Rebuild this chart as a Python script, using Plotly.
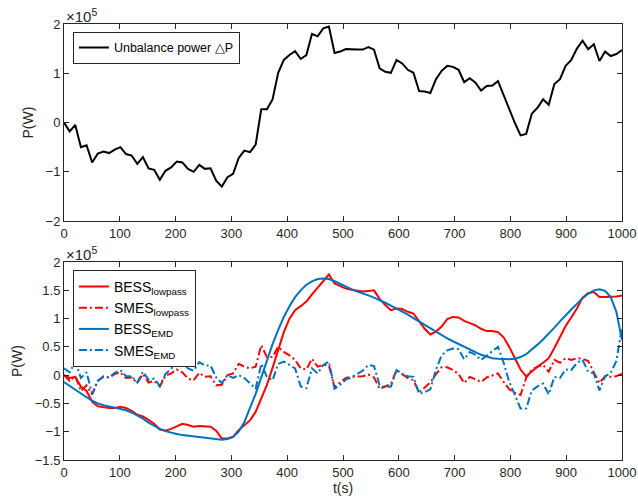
import numpy as np
import plotly.graph_objects as go

# ---------------- data (units of 1e5 W) ----------------
P_unbalance = [0, -0.18, -0.05, -0.5, -0.46, -0.81, -0.63, -0.59, -0.62, -0.55,
               -0.5, -0.64, -0.67, -0.84, -0.7, -0.93, -0.96, -1.16, -0.98, -0.91,
               -0.79, -0.81, -0.94, -1.0, -0.86, -0.94, -0.93, -1.18, -1.3, -1.11,
               -1.04, -0.72, -0.57, -0.6, -0.45, 0.27, 0.27, 0.47, 1.01, 1.27,
               1.37, 1.45, 1.29, 1.37, 1.8, 1.75, 1.91, 1.95, 1.41, 1.44,
               1.49, 1.48, 1.48, 1.48, 1.53, 1.48, 1.1, 1.03, 1.01, 1.27,
               1.2, 1.07, 1.01, 0.64, 0.63, 0.6, 0.88, 1.05, 1.15, 1.13,
               1.07, 0.82, 0.9, 0.81, 0.65, 0.74, 0.75, 0.84, 0.55, 0.27,
               -0.01, -0.26, -0.23, 0.18, 0.3, 0.47, 0.36, 0.78, 0.88, 1.15,
               1.27, 1.5, 1.66, 1.49, 1.59, 1.25, 1.44, 1.35, 1.39, 1.47]

BESS_lowpass = [0.0, -0.05, -0.03, -0.2, -0.28, -0.47, -0.55, -0.57, -0.58, -0.58,
                -0.56, -0.58, -0.63, -0.7, -0.73, -0.79, -0.86, -0.96, -0.98, -0.95,
                -0.91, -0.86, -0.88, -0.91, -0.9, -0.91, -0.91, -0.98, -1.12, -1.12,
                -1.09, -0.97, -0.88, -0.8, -0.65, -0.4, -0.17, 0.13, 0.45, 0.76,
                1.0, 1.15, 1.22, 1.3, 1.43, 1.55, 1.65, 1.78, 1.62, 1.57,
                1.53, 1.51, 1.49, 1.48, 1.49, 1.5, 1.35, 1.24, 1.15, 1.18,
                1.17, 1.12, 1.09, 0.96, 0.82, 0.72, 0.77, 0.86, 0.99, 1.03,
                1.02, 0.96, 0.92, 0.88, 0.82, 0.78, 0.78, 0.76, 0.67, 0.5,
                0.3, 0.1, -0.02, 0.07, 0.15, 0.22, 0.3, 0.48, 0.68, 0.87,
                1.02, 1.18, 1.37, 1.45, 1.47, 1.38, 1.38, 1.38, 1.39, 1.41]

SMES_lowpass = [0.0, -0.1, -0.02, -0.28, -0.18, -0.34, -0.1, -0.02, -0.04, 0.02,
                0.05, -0.05, -0.04, -0.14, 0.02, -0.13, -0.1, -0.2, -0.01, 0.03,
                0.1, 0.05, -0.06, -0.09, 0.04, -0.03, -0.02, -0.18, -0.17, 0.0,
                0.03, 0.2, 0.15, 0.12, 0.15, 0.53, 0.32, 0.32, 0.5, 0.41,
                0.35, 0.27, 0.12, 0.1, 0.29, 0.15, 0.18, 0.17, -0.21, -0.13,
                -0.05, -0.03, -0.02, -0.02, 0.01, -0.04, -0.24, -0.2, -0.16, 0.09,
                0.02, -0.05, -0.09, -0.3, -0.22, -0.13, 0.02, 0.14, 0.14, 0.09,
                0.02, -0.14, -0.03, -0.07, -0.12, -0.04, -0.01, 0.03, -0.12, -0.25,
                -0.31, -0.35, -0.05, 0.1, 0.15, 0.18, 0.06, 0.27, 0.22, 0.3,
                0.27, 0.3, 0.29, 0.25, 0.05, -0.14, -0.02, -0.03, -0.02, 0.03]

BESS_EMD = [-0.12, -0.19, -0.26, -0.33, -0.39, -0.45, -0.5, -0.53, -0.55, -0.57,
            -0.59, -0.62, -0.66, -0.71, -0.77, -0.84, -0.9, -0.95, -0.99, -1.02,
            -1.04, -1.06, -1.07, -1.08, -1.09, -1.1, -1.11, -1.13, -1.14, -1.13,
            -1.09, -1.0, -0.83, -0.58, -0.33, -0.04, 0.27, 0.55, 0.8, 1.03,
            1.22, 1.38, 1.5, 1.6, 1.66, 1.7, 1.71, 1.7, 1.66, 1.61,
            1.56, 1.52, 1.48, 1.45, 1.41, 1.37, 1.33, 1.28, 1.23, 1.18,
            1.13, 1.07, 1.01, 0.95, 0.88, 0.82, 0.76, 0.7, 0.65, 0.6,
            0.55, 0.5, 0.45, 0.41, 0.36, 0.33, 0.3, 0.29, 0.28, 0.28,
            0.29, 0.32, 0.37, 0.45, 0.54, 0.63, 0.73, 0.84, 0.95, 1.06,
            1.16, 1.26, 1.36, 1.44, 1.5, 1.52, 1.49, 1.38, 1.12, 0.62]

SMES_EMD = [0.12, 0.05, 0.24, -0.05, 0.05, -0.33, -0.1, -0.03, -0.04, 0.04,
            0.09, -0.02, -0.02, -0.13, 0.06, -0.08, -0.06, -0.19, 0.02, 0.11,
            0.25, 0.22, 0.12, 0.08, 0.23, 0.17, 0.17, -0.04, -0.14, 0.0,
            -0.05, 0.0, -0.05, -0.15, -0.24, 0.2, -0.03, -0.09, 0.2, 0.24,
            0.18, 0.12, -0.2, -0.23, 0.12, 0.03, 0.18, 0.24, -0.24, -0.17,
            -0.08, -0.04, 0.02, 0.08, 0.18, 0.16, -0.18, -0.21, -0.2, 0.09,
            0.02, -0.02, -0.03, -0.33, -0.3, -0.25, 0.1, 0.35, 0.44, 0.47,
            0.46, 0.28, 0.41, 0.36, 0.27, 0.35, 0.42, 0.5, 0.22, -0.12,
            -0.35, -0.59, -0.59, -0.27, -0.2, -0.15, -0.34, -0.03, -0.05, 0.1,
            0.09, 0.22, 0.27, 0.06, 0.03, -0.27, -0.02, 0.04, 0.25, 0.85]

t = np.linspace(0, 1000, len(P_unbalance))

x_ticks = list(range(0, 1001, 100))
y1_ticks = [-2, -1, 0, 1, 2]
y2_ticks = [-1.5, -1, -0.5, 0, 0.5, 1, 1.5, 2]

RED = "#FF0000"
BLUE = "#0072BD"
DASHDOT = "8px,3px,2px,3px"
FONT = "Liberation Sans, Arial, sans-serif"
TXT = "#262626"

fig = go.Figure()
fig.add_trace(go.Scatter(x=t, y=P_unbalance, mode="lines", name="Unbalance power \u25B3P",
                         line=dict(color="black", width=2), xaxis="x", yaxis="y",
                         legend="legend", showlegend=True))

fig.add_trace(go.Scatter(x=t, y=BESS_lowpass, mode="lines", name="BESS<sub>lowpass</sub>",
                         line=dict(color=RED, width=2), xaxis="x2", yaxis="y2",
                         legend="legend2", showlegend=True))
fig.add_trace(go.Scatter(x=t, y=SMES_lowpass, mode="lines", name="SMES<sub>lowpass</sub>",
                         line=dict(color=RED, width=2, dash=DASHDOT), xaxis="x2", yaxis="y2",
                         legend="legend2", showlegend=True))
fig.add_trace(go.Scatter(x=t, y=BESS_EMD, mode="lines", name="BESS<sub>EMD</sub>",
                         line=dict(color=BLUE, width=2), xaxis="x2", yaxis="y2",
                         legend="legend2", showlegend=True))
fig.add_trace(go.Scatter(x=t, y=SMES_EMD, mode="lines", name="SMES<sub>EMD</sub>",
                         line=dict(color=BLUE, width=2, dash=DASHDOT), xaxis="x2", yaxis="y2",
                         legend="legend2", showlegend=True))

axis_style = dict(showline=True, linecolor=TXT, linewidth=1, mirror="ticks", ticks="inside",
                  ticklen=5, tickcolor=TXT, showgrid=False, zeroline=False, automargin=False,
                  tickfont=dict(family=FONT, size=13, color=TXT))

fig.update_layout(
    width=638, height=503,
    margin=dict(l=64, r=16, t=24, b=43),
    paper_bgcolor="white", plot_bgcolor="white",
    showlegend=True,
    font=dict(family=FONT, size=13, color=TXT),
    xaxis=dict(domain=[0, 1], anchor="y", range=[0, 1000], tickvals=x_ticks, **axis_style),
    yaxis=dict(domain=[0.548, 1], anchor="x", range=[-2, 2], tickvals=y1_ticks,
               title=dict(text="P(W)", font=dict(family=FONT, size=14, color=TXT), standoff=8), **axis_style),
    xaxis2=dict(domain=[0, 1], anchor="y2", range=[0, 1000], tickvals=x_ticks,
                title=dict(text="t(s)", font=dict(family=FONT, size=14, color=TXT), standoff=4), **axis_style),
    yaxis2=dict(domain=[0, 0.454], anchor="x2", range=[-1.5, 2], tickvals=y2_ticks,
                title=dict(text="P(W)", font=dict(family=FONT, size=14, color=TXT), standoff=8), **axis_style),
    legend=dict(x=0.016, y=0.982, xanchor="left", yanchor="top", bgcolor="white",
                bordercolor=TXT, borderwidth=1, itemwidth=30,
                font=dict(family=FONT, size=12.5, color="black")),
    legend2=dict(x=0.016, y=0.436, xanchor="left", yanchor="top", bgcolor="white",
                 bordercolor=TXT, borderwidth=1, itemwidth=30, tracegroupgap=0,
                 font=dict(family=FONT, size=14, color="black")),
    annotations=[
        dict(text="\u00d710<sup>5</sup>", xref="paper", yref="paper", x=0, y=1.0,
             xanchor="left", yanchor="bottom", showarrow=False,
             font=dict(family=FONT, size=15, color=TXT), yshift=-3),
        dict(text="\u00d710<sup>5</sup>", xref="paper", yref="paper", x=0, y=0.454,
             xanchor="left", yanchor="bottom", showarrow=False,
             font=dict(family=FONT, size=15, color=TXT), yshift=-3),
    ],
)

fig.write_html("out.html")
